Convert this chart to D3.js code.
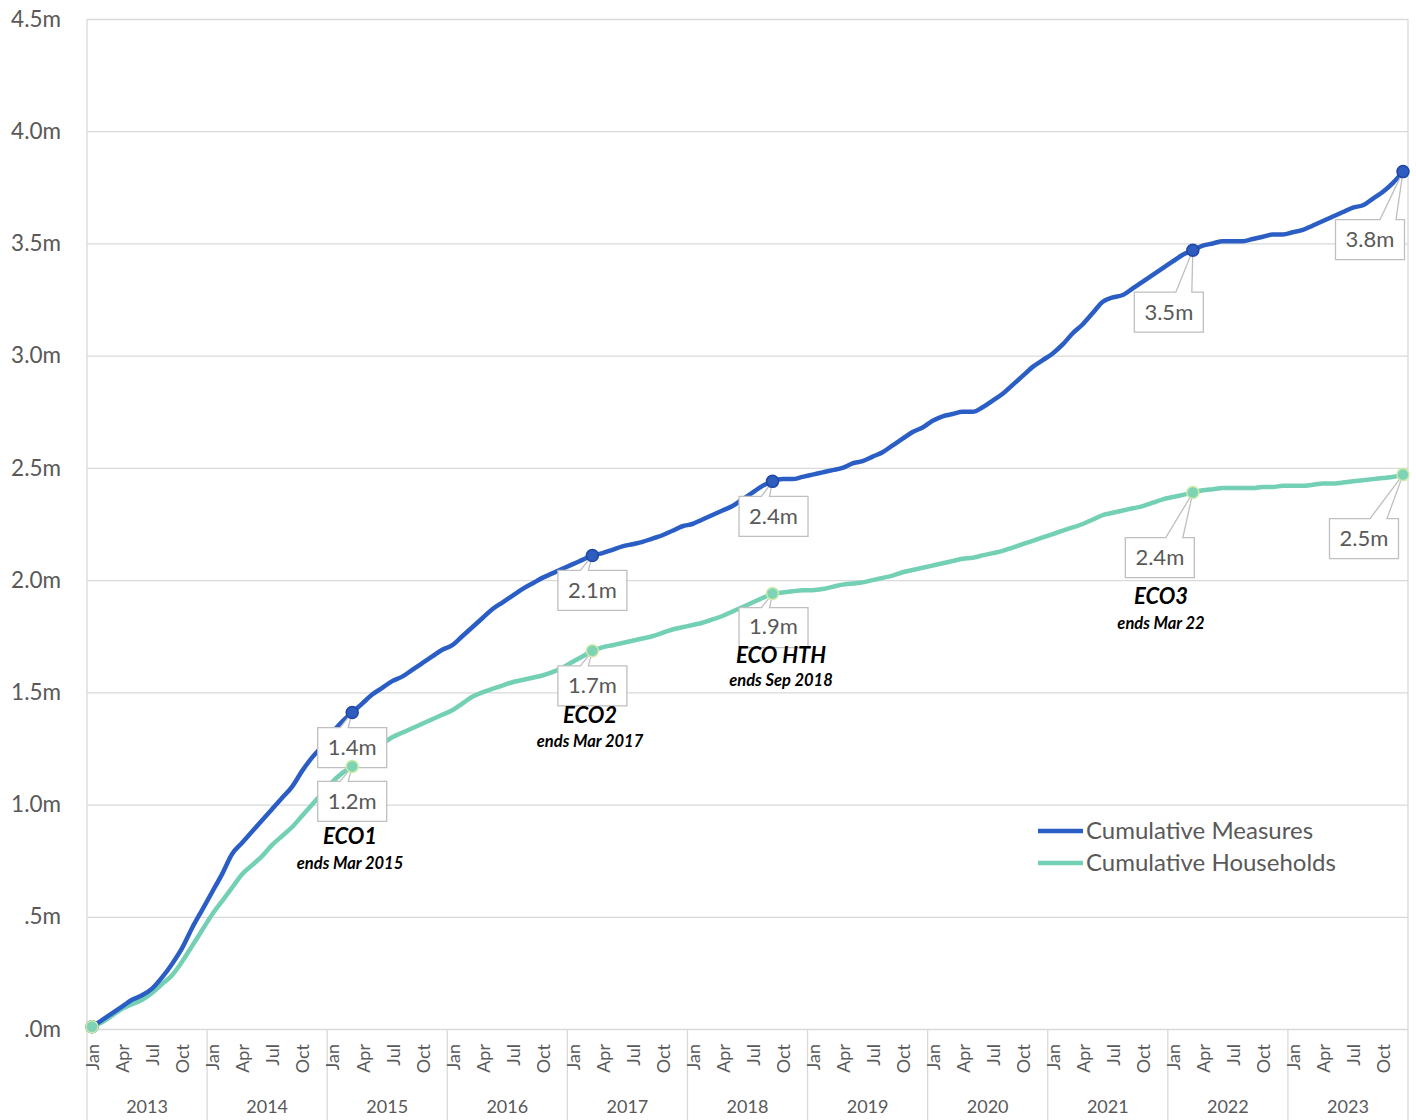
<!DOCTYPE html>
<html>
<head>
<meta charset="utf-8">
<script src="https://cdn.jsdelivr.net/npm/d3@7"></script>
<style>
  html, body { margin: 0; padding: 0; background: #fff; }
  svg { display: block; font-family: Lato, "Open Sans", sans-serif; }
</style>
</head>
<body>
<svg id="chart" width="1416" height="1120"></svg>
<script>
// ---------------- DATA ----------------
const years = ["2013","2014","2015","2016","2017","2018","2019","2020","2021","2022","2023"];
const monthNames = ["Jan","Feb","Mar","Apr","May","Jun","Jul","Aug","Sep","Oct","Nov","Dec"];
const shownMonths = ["Jan","Apr","Jul","Oct"];

// Cumulative measures (millions), monthly Jan 2013 - Dec 2023
const measures = [
  0.01, 0.04, 0.07, 0.10, 0.13, 0.15, 0.18, 0.23, 0.29, 0.36, 0.45, 0.53, // 2013
  0.61, 0.69, 0.78, 0.83, 0.88, 0.93, 0.98, 1.03, 1.08, 1.15, 1.21, 1.26, // 2014
  1.32, 1.37, 1.41, 1.45, 1.49, 1.52, 1.55, 1.57, 1.60, 1.63, 1.66, 1.69, // 2015
  1.71, 1.75, 1.79, 1.83, 1.87, 1.90, 1.93, 1.96, 1.985, 2.01, 2.03, 2.05, // 2016
  2.07, 2.09, 2.11, 2.12, 2.135, 2.15, 2.16, 2.17, 2.185, 2.20, 2.22, 2.24, // 2017
  2.25, 2.27, 2.29, 2.31, 2.33, 2.36, 2.39, 2.42, 2.44, 2.45, 2.45, 2.46, // 2018
  2.47, 2.48, 2.49, 2.50, 2.52, 2.53, 2.55, 2.57, 2.60, 2.63, 2.66, 2.68, // 2019
  2.71, 2.73, 2.74, 2.75, 2.75, 2.77, 2.80, 2.83, 2.87, 2.91, 2.95, 2.98, // 2020
  3.01, 3.05, 3.10, 3.14, 3.19, 3.24, 3.26, 3.27, 3.30, 3.33, 3.36, 3.39, // 2021
  3.42, 3.45, 3.47, 3.49, 3.50, 3.51, 3.51, 3.51, 3.52, 3.53, 3.54, 3.54, // 2022
  3.55, 3.56, 3.58, 3.60, 3.62, 3.64, 3.66, 3.67, 3.70, 3.73, 3.77, 3.82  // 2023
];

// Cumulative households (millions), monthly Jan 2013 - Dec 2023
const households = [
  0.01, 0.03, 0.06, 0.09, 0.11, 0.13, 0.16, 0.20, 0.24, 0.30, 0.37, 0.44, // 2013
  0.51, 0.57, 0.63, 0.69, 0.73, 0.77, 0.82, 0.86, 0.90, 0.95, 1.00, 1.05, // 2014
  1.10, 1.14, 1.17, 1.21, 1.24, 1.27, 1.30, 1.32, 1.34, 1.36, 1.38, 1.40, // 2015
  1.42, 1.45, 1.48, 1.50, 1.515, 1.53, 1.545, 1.555, 1.565, 1.575, 1.59, 1.61, // 2016
  1.635, 1.66, 1.685, 1.70, 1.71, 1.72, 1.73, 1.74, 1.75, 1.765, 1.78, 1.79, // 2017
  1.80, 1.81, 1.825, 1.84, 1.86, 1.88, 1.90, 1.92, 1.94, 1.945, 1.95, 1.955, // 2018
  1.955, 1.96, 1.97, 1.98, 1.985, 1.99, 2.00, 2.01, 2.02, 2.035, 2.045, 2.055, // 2019
  2.065, 2.075, 2.085, 2.095, 2.10, 2.11, 2.12, 2.13, 2.145, 2.16, 2.175, 2.19, // 2020
  2.205, 2.22, 2.235, 2.25, 2.27, 2.29, 2.30, 2.31, 2.32, 2.33, 2.345, 2.36, // 2021
  2.37, 2.38, 2.39, 2.40, 2.405, 2.41, 2.41, 2.41, 2.41, 2.415, 2.415, 2.42, // 2022
  2.42, 2.42, 2.425, 2.43, 2.43, 2.435, 2.44, 2.445, 2.45, 2.455, 2.46, 2.47 // 2023
];

const yTicks = [0, 0.5, 1.0, 1.5, 2.0, 2.5, 3.0, 3.5, 4.0, 4.5];
const yTickLabels = [".0m", ".5m", "1.0m", "1.5m", "2.0m", "2.5m", "3.0m", "3.5m", "4.0m", "4.5m"];

const seriesNames = ["Cumulative Measures", "Cumulative Households"];

// Data callouts: series, month, text
const calloutSeries = ["measures","households","measures","households","measures","households","measures","households","measures","households"];
const calloutMonths = ["Mar 2015","Mar 2015","Mar 2017","Mar 2017","Sep 2018","Sep 2018","Mar 2022","Mar 2022","Dec 2023","Dec 2023"];
const calloutTexts  = ["1.4m","1.2m","2.1m","1.7m","2.4m","1.9m","3.5m","2.4m","3.8m","2.5m"];

// Scheme annotations
const schemeNames = ["ECO1","ECO2","ECO HTH","ECO3"];
const schemeEnds  = ["ends Mar 2015","ends Mar 2017","ends Sep 2018","ends Mar 22"];

// ---------------- LAYOUT ----------------
const svg = d3.select("#chart");
const L = 87, R = 1408, T = 19, B = 1029, BOTTOM = 1120;
const colMeasures = "#2B5EC5", colHouse = "#74D0B5";
const textCol = "#595959", gridCol = "#d9d9d9";

const categories = [];
years.forEach(y => monthNames.forEach(m => categories.push(m + " " + y)));

const x = d3.scaleBand().domain(categories).range([L, R]).paddingInner(0).paddingOuter(0);
const cx = c => x(c) + x.bandwidth() / 2;
const y = d3.scaleLinear().domain([0, 4.5]).range([B, T]);

svg.append("rect").attr("width", 1416).attr("height", 1120).attr("fill", "#fff");

// gridlines + y labels via axis
const yAxis = d3.axisLeft(y).tickValues(yTicks)
  .tickFormat((d, i) => yTickLabels[i]).tickSize(-(R - L)).tickPadding(26);
const gy = svg.append("g").attr("transform", `translate(${L},0)`).call(yAxis);
gy.select(".domain").remove();
gy.selectAll(".tick line").attr("stroke", gridCol).attr("stroke-width", 1.3);
gy.selectAll(".tick text").attr("fill", textCol).attr("font-size", 22.5)
  .attr("font-family", "Lato, sans-serif").attr("dy", "0.32em");

// borders
svg.append("line").attr("x1", L).attr("x2", L).attr("y1", T).attr("y2", BOTTOM).attr("stroke", gridCol).attr("stroke-width", 1.3);
svg.append("line").attr("x1", R).attr("x2", R).attr("y1", T).attr("y2", BOTTOM).attr("stroke", gridCol).attr("stroke-width", 1.3);

// year dividers
years.forEach((yr, i) => {
  if (i === 0) return;
  const xx = x("Jan " + yr);
  svg.append("line").attr("x1", xx).attr("x2", xx).attr("y1", B).attr("y2", BOTTOM)
    .attr("stroke", gridCol).attr("stroke-width", 1.3);
});

// month labels
categories.forEach(c => {
  const m = c.split(" ")[0];
  if (!shownMonths.includes(m)) return;
  svg.append("text")
    .attr("transform", `translate(${cx(c) + 1},${B + 15}) rotate(-90)`)
    .attr("text-anchor", "end").attr("dy", "0.35em")
    .attr("font-size", 18).attr("fill", textCol).text(m);
});

// year labels
years.forEach(yr => {
  const x0 = x("Jan " + yr), x1 = x("Dec " + yr) + x.bandwidth();
  svg.append("text").attr("x", (x0 + x1) / 2).attr("y", 1113)
    .attr("text-anchor", "middle").attr("font-size", 18).attr("fill", textCol).text(yr);
});

// lines
const line = d3.line().x((d, i) => cx(categories[i])).y(d => y(d)).curve(d3.curveMonotoneX);
svg.append("path").datum(households).attr("d", line).attr("fill", "none")
  .attr("stroke", colHouse).attr("stroke-width", 4.5).attr("stroke-linejoin", "round");
svg.append("path").datum(measures).attr("d", line).attr("fill", "none")
  .attr("stroke", colMeasures).attr("stroke-width", 4.5).attr("stroke-linejoin", "round");

// markers
const seriesData = { measures, households };
function marker(series, cat) {
  const v = seriesData[series][categories.indexOf(cat)];
  const isM = series === "measures";
  svg.append("circle").attr("cx", cx(cat)).attr("cy", y(v)).attr("r", 6)
    .attr("fill", isM ? "#2F5DBF" : "#7ED3B7")
    .attr("stroke", isM ? "#1E47A3" : "#CDEBA6").attr("stroke-width", 1.5);
}
marker("measures", "Jan 2013");
marker("households", "Jan 2013");

// callout layout (box center offsets relative to point, wedge base relative to box center)
const calloutLayout = [
  {dx: 0, dy: 35, w0: -12, w1: -4},
  {dx: 0, dy: 35, w0: -12, w1: -4},
  {dx: 0, dy: 35, w0: -12, w1: -4},
  {dx: 0, dy: 35, w0: -12, w1: -4},
  {dx: 1, dy: 35, w0: -12, w1: -4},
  {dx: 1, dy: 34, w0: -12, w1: -4},
  {dx: -24, dy: 62, w0: 7, w1: 23},
  {dx: -33, dy: 65, w0: 6, w1: 23},
  {dx: -33, dy: 68, w0: 10, w1: 26},
  {dx: -39, dy: 64, w0: 6, w1: 23}
];
const BW = 69, BH = 40;
calloutTexts.forEach((t, i) => {
  const s = calloutSeries[i], c = calloutMonths[i];
  const v = seriesData[s][categories.indexOf(c)];
  const px = cx(c), py = y(v);
  const lay = calloutLayout[i];
  const bcx = px + lay.dx, bcy = py + lay.dy;
  const bx = bcx - BW / 2, by = bcy - BH / 2;
  const a = bcx + lay.w0, b = bcx + lay.w1;
  const path = `M${bx},${by} L${a},${by} L${px},${py} L${b},${by} L${bx + BW},${by} L${bx + BW},${by + BH} L${bx},${by + BH} Z`;
  svg.append("path").attr("d", path).attr("fill", "#fff").attr("stroke", "#bfbfbf").attr("stroke-width", 1.3);
  svg.append("text").attr("x", bcx).attr("y", bcy).attr("dy", i === 5 ? "0.28em" : "0.34em")
    .attr("text-anchor", "middle").attr("font-size", 22).attr("fill", textCol).text(t);
  marker(s, c);
});

// scheme annotations
const schemeLayout = [
  {x: 350, y1: 836, y2: 863},
  {x: 590, y1: 715, y2: 741},
  {x: 781, y1: 655, y2: 680},
  {x: 1161, y1: 596, y2: 623}
];
schemeNames.forEach((n, i) => {
  const p = schemeLayout[i];
  svg.append("text").attr("x", p.x).attr("y", p.y1).attr("dy", "0.35em")
    .attr("text-anchor", "middle").attr("font-size", 22).attr("font-weight", "bold")
    .attr("font-style", "italic").attr("fill", "#000").text(n);
  svg.append("text").attr("x", p.x).attr("y", p.y2).attr("dy", "0.35em")
    .attr("text-anchor", "middle").attr("font-size", 16.5).attr("font-weight", "bold")
    .attr("font-style", "italic").attr("fill", "#000").text(schemeEnds[i]);
});

// legend
const legendCols = [colMeasures, colHouse];
seriesNames.forEach((n, i) => {
  const ly = 831 + i * 32;
  svg.append("line").attr("x1", 1038).attr("x2", 1083).attr("y1", ly).attr("y2", ly)
    .attr("stroke", legendCols[i]).attr("stroke-width", 4.5);
  svg.append("text").attr("x", 1086).attr("y", ly).attr("dy", "0.35em")
    .attr("font-size", 24).attr("fill", textCol).text(n);
});
</script>
</body>
</html>
